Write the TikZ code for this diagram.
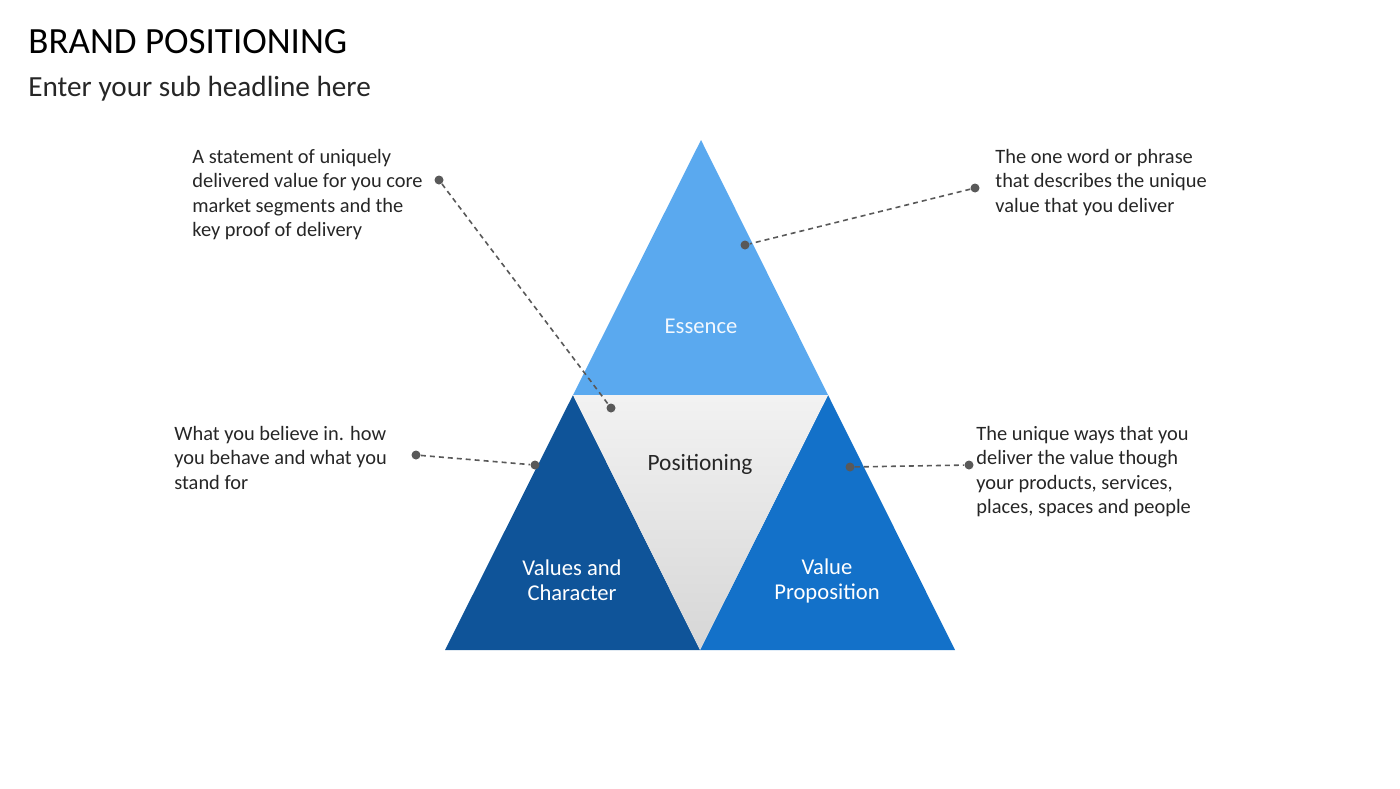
\documentclass[tikz,border=0pt]{standalone}
\usepackage{fontspec}
\setmainfont{Carlito}
\definecolor{essence}{HTML}{5AA9EF}
\definecolor{valchar}{HTML}{0F5499}
\definecolor{valprop}{HTML}{1371C9}
\definecolor{dotgray}{HTML}{595959}
\begin{document}
\begin{tikzpicture}[x=0.5pt,y=-0.5pt,
  body/.style={anchor=base west,inner sep=0pt,align=left,font=\fontsize{10.2}{12.25}\selectfont,text=black!85},
  lbl/.style={inner sep=0pt,align=center,font=\fontsize{11.3}{12.5}\selectfont},
  dot/.style={circle,fill=dotgray,inner sep=0pt,minimum size=4.5pt},
  conn/.style={dotgray,line width=0.8pt,dash pattern=on 2.5pt off 2pt}]
\useasboundingbox (0,0) rectangle (1400,788);
% vertices
\coordinate (apex) at (701,140);
\coordinate (ml) at (573,395);
\coordinate (mr) at (828,395);
\coordinate (bl) at (445,650);
\coordinate (bm) at (700,650);
\coordinate (br) at (955,650);
% triangles
\fill[essence] (apex) -- (ml) -- (mr) -- cycle;
\fill[valchar] (ml) -- (bl) -- (bm) -- cycle;
\fill[valprop] (mr) -- (bm) -- (br) -- cycle;
\shade[top color=black!5,bottom color=black!16] (ml) -- (mr) -- (bm) -- cycle;
% labels
\node[lbl,text=white!92!essence] (essence) at (701,326) {Essence};
\node[lbl,text=black!85,font=\fontsize{11.7}{12.5}\selectfont] (positioning) at (700,464) {Positioning};
\node[lbl,text=white] (values) at (572,580) {Values and\\Character};
\node[lbl,text=white] (vprop) at (827,581) {Value\\Proposition};
% title
\node[anchor=base west,inner sep=0pt,font=\fontsize{18.5}{20}\selectfont] (title) at (28,53) {BRAND POSITIONING};
\node[anchor=base west,inner sep=0pt,font=\fontsize{14.6}{16}\selectfont,text=black!85] (sub) at (28,96) {Enter your sub headline here};
% descriptions (base = last line baseline)
\node[body] (t1) at (192,236.5) {A statement of uniquely\\delivered value for you core\\market segments and the\\key proof of delivery};
\node[body] (t2) at (995,212) {The one word or phrase\\that describes the unique\\value that you deliver};
\node[body] (t3) at (174,489) {What you believe in. how\\you behave and what you\\stand for};
\node[body] (t4) at (976,513.5) {The unique ways that you\\deliver the value though\\your products, services,\\places, spaces and people};
% dots
\node[dot] (d1a) at (439,180) {};
\node[dot] (d1b) at (611,408) {};
\node[dot] (d2a) at (975,188) {};
\node[dot] (d2b) at (745,245) {};
\node[dot] (d3a) at (416,455) {};
\node[dot] (d3b) at (535,465) {};
\node[dot] (d4a) at (850,467) {};
\node[dot] (d4b) at (969,465) {};
% connectors
\draw[conn] (d1a) -- (d1b);
\draw[conn] (d2a) -- (d2b);
\draw[conn] (d3a) -- (d3b);
\draw[conn] (d4a) -- (d4b);
\end{tikzpicture}
\end{document}
